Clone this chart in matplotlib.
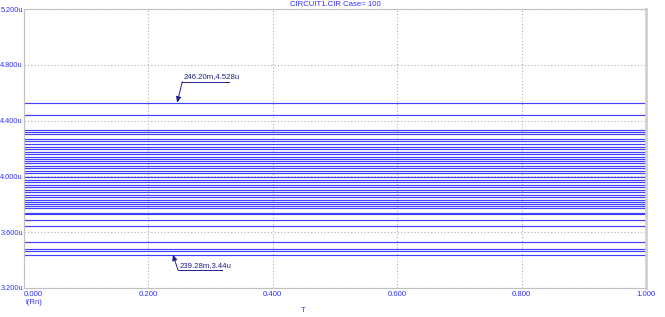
import matplotlib
matplotlib.use("Agg")
import matplotlib.pyplot as plt
import numpy as np

title = "CIRCUIT1.CIR Case= 100"
x_range = [0.0, 1.0]
x_ticks = [0.0, 0.2, 0.4, 0.6, 0.8, 1.0]
x_tick_labels = ["0.000", "0.200", "0.400", "0.600", "0.800", "1.000"]
y_ticks = [3.2, 3.6, 4.0, 4.4, 4.8, 5.2]
y_tick_labels = ["3.200u", "3.600u", "4.000u", "4.400u", "4.800u", "5.200u"]

# current levels (uA) of the cases, constant over T
levels = [4.528, 4.440, 4.333, 4.318, 4.304, 4.268, 4.254, 4.232, 4.211, 4.196,
          4.175, 4.161, 4.139, 4.125, 4.110, 4.096, 4.078, 4.060, 4.042, 4.024,
          3.996, 3.974, 3.960, 3.938, 3.924, 3.903, 3.888, 3.867, 3.849, 3.831,
          3.816, 3.802, 3.788, 3.773, 3.738, 3.727, 3.687, 3.644, 3.532, 3.476,
          3.462, 3.440]

ann_top = (0.2462, 4.528, "246.20m,4.528u")
ann_bot = (0.2393, 3.44, "239.28m,3.44u")

plt.rcParams['font.family'] = ['Liberation Sans Narrow', 'Liberation Sans', 'DejaVu Sans']

blue = "#2b2bFF"
tblue = "#3030FF"
nblue = "#202090"
fs = 5.6

fig = plt.figure(figsize=(6.65, 3.17), dpi=100)
ax = fig.add_axes([24/665, 1-288/317, 622/665, 279/317])
ax.set_xlim(*x_range)
ax.set_ylim(3.2, 5.2)

for v in levels:
    ax.plot(x_range, [v, v], color=blue, lw=0.85, alpha=0.9, solid_capstyle="butt")

ax.set_xticks(x_ticks)
ax.set_yticks(y_ticks)
ax.set_xticklabels(x_tick_labels)
ax.set_yticklabels(y_tick_labels)
ax.tick_params(length=0, labelsize=fs, labelcolor=tblue, pad=2)
ax.tick_params(axis="y", pad=0.8, labelsize=5.3)
ax.get_xticklabels()[0].set_horizontalalignment("left")
ax.grid(True, color="#b0b0b0", linestyle=(0, (1, 2)), lw=0.8)
for s in ["left", "bottom", "top"]:
    ax.spines[s].set_color("#c0c0c0")
    ax.spines[s].set_linewidth(0.8)
ax.spines["right"].set_color("#d0d0d0")
ax.spines["right"].set_linewidth(2)

ax.set_title(title, fontsize=fs, color=tblue, pad=2)
fig.text(25/665, 1-302/317, "i(Rn)", fontsize=fs, color=tblue, ha="left", va="center")
fig.text(303/665, 1-310/317, "T", fontsize=fs, color=tblue, ha="center", va="center")

def annot(x, y, label, tx, ty, ux2):
    ax.annotate("", xy=(x, y), xytext=(tx, ty),
                arrowprops=dict(arrowstyle="-|>,head_length=0.35,head_width=0.15",
                                color=nblue, lw=0.7, shrinkA=0, shrinkB=0))
    ax.plot([tx, ux2], [ty, ty], color=nblue, lw=0.7)
    ax.text(tx + 0.002, ty + 0.010, label, fontsize=fs, color=nblue,
            ha="left", va="bottom")

annot(ann_top[0], ann_top[1], ann_top[2], 0.2545, 4.679, 0.330)
annot(ann_bot[0], ann_bot[1], ann_bot[2], 0.2476, 3.329, 0.318)

fig.savefig("out.png", dpi=100)
